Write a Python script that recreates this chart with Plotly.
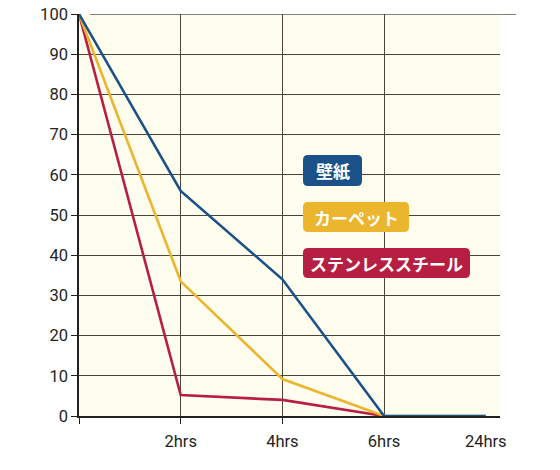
import plotly.graph_objects as go

# データ
time_labels = ["", "2hrs", "4hrs", "6hrs", "24hrs"]
time_pos = [0, 1, 2, 3, 4]
wallpaper = [100, 56, 34, 0, 0]
carpet = [100, 33.5, 9.2, 0, 0]
steel = [100, 5.2, 4, 0]
y_ticks = [0, 10, 20, 30, 40, 50, 60, 70, 80, 90, 100]

series = [
    ("ステンレススチール", steel, "#b71f42"),
    ("カーペット", carpet, "#ebb52d"),
    ("壁紙", wallpaper, "#1b5189"),
]

fig = go.Figure()

for name, vals, color in series:
    fig.add_trace(go.Scatter(
        x=time_pos[:len(vals)],
        y=vals,
        mode="lines",
        line=dict(color=color, width=2.6),
        name=name,
        showlegend=False,
        cliponaxis=False,
    ))

# 縦のグリッド用のダミー軸
fig.add_trace(go.Scatter(x=[None], y=[None], xaxis="x2", showlegend=False))

grid_col = "#4a443d"
tick_font = dict(family="Roboto, sans-serif", size=16.5, color="#231f20")

fig.update_layout(
    width=560,
    height=470,
    margin=dict(l=79, r=60, t=14, b=54),
    paper_bgcolor="white",
    plot_bgcolor="#fffdee",
    xaxis=dict(
        range=[0, 4.14],
        tickvals=time_pos,
        ticktext=time_labels,
        showgrid=False,
        zeroline=False,
        showline=True,
        linecolor="#231f20",
        linewidth=1.5,
        layer="below traces",
        ticks="outside",
        ticklen=9,
        tickcolor="rgba(0,0,0,0)",
        minor=dict(tickvals=time_pos[:3], ticks="outside", ticklen=6,
                   tickcolor="#231f20", showgrid=False),
        tickfont=tick_font,
        automargin=False,
    ),
    xaxis2=dict(
        overlaying="x",
        range=[0, 4.14],
        tickvals=time_pos[1:4],
        showticklabels=False,
        showgrid=True,
        gridcolor=grid_col,
        gridwidth=1.3,
        ticks="",
        side="bottom",
        zeroline=False,
        layer="below traces",
    ),
    yaxis=dict(
        range=[0, 100],
        tickvals=y_ticks,
        showgrid=True,
        gridcolor=grid_col,
        gridwidth=1.3,
        zeroline=False,
        showline=True,
        linecolor="#231f20",
        linewidth=1.5,
        layer="below traces",
        ticks="outside",
        ticklen=6,
        tickcolor="#231f20",
        tickfont=tick_font,
        automargin=False,
    ),
)

# 一番上のグリッド線は右にはみ出している
fig.add_shape(type="line", xref="paper", yref="y",
              x0=0.026, x1=1.038, y0=y_ticks[-1], y1=y_ticks[-1],
              line=dict(color="#5a554f", width=1.5), layer="below")

# ラベル（角丸の箱）: ピクセル位置
labels = [
    ("壁紙", "#1b5189", 303, 362, 155, 186),
    ("カーペット", "#ebb52d", 303, 409, 202, 232),
    ("ステンレススチール", "#b71f42", 303, 470, 248, 278),
]

px_per_x = (500 - 79) / 4.14
px_per_y = (416 - 14) / 100.0


def to_x(px):
    return (px - 79) / px_per_x


def to_y(py):
    return (416 - py) / px_per_y


for text, color, bx0, bx1, by0, by1 in labels:
    rx = 5 / px_per_x
    ry = 5 / px_per_y
    x0, x1 = to_x(bx0), to_x(bx1)
    y0, y1 = to_y(by1), to_y(by0)
    path = (f"M {x0+rx},{y0} L {x1-rx},{y0} Q {x1},{y0} {x1},{y0+ry} "
            f"L {x1},{y1-ry} Q {x1},{y1} {x1-rx},{y1} L {x0+rx},{y1} "
            f"Q {x0},{y1} {x0},{y1-ry} L {x0},{y0+ry} Q {x0},{y0} {x0+rx},{y0} Z")
    fig.add_shape(type="path", path=path, xref="x", yref="y",
                  fillcolor=color, line=dict(width=0), layer="above")
    fig.add_annotation(
        x=(x0 + x1) / 2, y=(y0 + y1) / 2, xref="x", yref="y",
        text=f"<b>{text}</b>", showarrow=False,
        font=dict(family="Noto Sans CJK JP", size=17, color="white"),
    )

fig.write_html("out.html", config={"displayModeBar": False},
               post_script="document.body.style.margin='0';")
